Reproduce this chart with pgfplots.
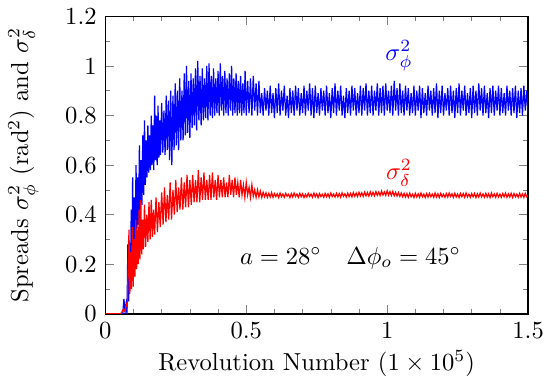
\documentclass[border=0pt]{standalone}
\usepackage{pgfplots}
\pgfplotsset{compat=1.18}
\begin{document}
\begin{tikzpicture}
\begin{axis}[
  scale only axis,
  width=172pt, height=121pt,
  xmin=0, xmax=1.5, ymin=0, ymax=1.2,
  xtick={0,0.5,1,1.5}, xticklabels={0,0.5,1,1.5},
  ytick={0,0.2,0.4,0.6,0.8,1,1.2}, yticklabels={0,0.2,0.4,0.6,0.8,1,1.2},
  minor x tick num=4, minor y tick num=1,
  tick align=inside, tick pos=both,
  major tick length=3.5pt, minor tick length=2pt,
  axis line style={line width=0.6pt},
  xlabel={Revolution Number ($1\times 10^5$)},
  ylabel={Spreads $\sigma_\phi^2$ (rad$^2$) and $\sigma_\delta^2$},
  xlabel style={yshift=2.5pt},
  ylabel style={yshift=4pt},
]
\addplot[blue, line width=0.5pt] coordinates {
(0,0) (0.05,0) (0.062,0.0) (0.066,0.06) (0.070,0.01) (0.074,0.04) (0.077,0.0) (0.080,0.28) (0.083,0.05)
(0.086,0.2) (0.089,0.12) (0.092,0.42) (0.094,0.16) (0.097,0.55) (0.100,0.25) (0.103,0.47) (0.106,0.3)
(0.109,0.6) (0.112,0.34) (0.115,0.55) (0.118,0.36) (0.121,0.68) (0.124,0.42) (0.127,0.62) (0.130,0.44)
(0.133,0.72) (0.136,0.48) (0.139,0.78) (0.142,0.52) (0.145,0.70) (0.148,0.55) (0.151,0.76) (0.154,0.57)
(0.157,0.72) (0.160,0.58) (0.163,0.80) (0.166,0.6) (0.169,0.76) (0.172,0.58) (0.175,0.88) (0.178,0.62)
(0.181,0.80) (0.184,0.6) (0.187,0.84) (0.190,0.63) (0.193,0.78) (0.196,0.64) (0.2,0.85) (0.204,0.65)
(0.208,0.82) (0.212,0.64) (0.216,0.88) (0.22,0.66) (0.224,0.86) (0.228,0.62) (0.232,0.9) (0.236,0.60)
(0.24,0.88) (0.244,0.66) (0.248,0.93) (0.252,0.68) (0.256,0.9) (0.26,0.66) (0.264,0.95) (0.268,0.7)
(0.272,0.9) (0.276,0.7) (0.28,0.97) (0.284,0.72) (0.288,1.0) (0.292,0.73) (0.296,0.94) (0.30,0.71)
(0.304,0.97) (0.308,0.75) (0.312,0.95) (0.316,0.76) (0.32,0.99) (0.324,0.74) (0.328,1.02) (0.332,0.78)
(0.336,0.96) (0.34,0.76) (0.344,0.99) (0.348,0.78) (0.352,0.95) (0.356,0.79) (0.36,1.0) (0.364,0.78)
(0.368,1.01) (0.372,0.8) (0.376,0.96) (0.38,0.79) (0.384,0.99) (0.388,0.8) (0.392,0.95) (0.396,0.81)
(0.40,0.98) (0.404,0.8) (0.408,1.01) (0.412,0.82) (0.416,0.96) (0.42,0.8) (0.424,0.98) (0.428,0.81)
(0.432,0.95) (0.436,0.8) (0.44,0.97) (0.444,0.82) (0.448,1.0) (0.452,0.8) (0.456,0.95) (0.46,0.81)
(0.464,0.97) (0.468,0.8) (0.472,0.94) (0.476,0.81) (0.48,0.96) (0.484,0.8) (0.488,0.93) (0.492,0.81)
(0.496,0.98) (0.50,0.80) (0.505,0.94) (0.51,0.81) (0.515,0.95) (0.52,0.80) (0.525,0.96) (0.53,0.82)
(0.535,0.93) (0.54,0.80) (0.545,0.94) (0.550,0.81) (0.555,0.89) (0.560,0.80) (0.565,0.91) (0.570,0.82) (0.575,0.90)
(0.580,0.80) (0.585,0.92) (0.590,0.81) (0.595,0.89) (0.600,0.79) (0.605,0.91) (0.610,0.81) (0.615,0.93)
(0.620,0.80) (0.625,0.90) (0.630,0.82) (0.635,0.92) (0.640,0.80) (0.645,0.88) (0.650,0.79) (0.655,0.91)
(0.660,0.81) (0.665,0.90) (0.670,0.80) (0.675,0.92) (0.680,0.82) (0.685,0.91) (0.690,0.80) (0.695,0.89)
(0.700,0.81) (0.705,0.92) (0.710,0.80) (0.715,0.90) (0.720,0.82) (0.725,0.93) (0.730,0.80) (0.735,0.91)
(0.740,0.79) (0.745,0.92) (0.750,0.81) (0.755,0.89) (0.760,0.80) (0.765,0.91) (0.770,0.82) (0.775,0.90)
(0.780,0.80) (0.785,0.92) (0.790,0.81) (0.795,0.89) (0.800,0.79) (0.805,0.91) (0.810,0.81) (0.815,0.93)
(0.820,0.80) (0.825,0.90) (0.830,0.82) (0.835,0.92) (0.840,0.80) (0.845,0.88) (0.850,0.79) (0.855,0.91)
(0.860,0.81) (0.865,0.90) (0.870,0.80) (0.875,0.92) (0.880,0.82) (0.885,0.91) (0.890,0.80) (0.895,0.89)
(0.900,0.81) (0.905,0.92) (0.910,0.80) (0.915,0.91) (0.920,0.82) (0.925,0.93) (0.930,0.80) (0.935,0.90)
(0.940,0.81) (0.945,0.92) (0.950,0.80) (0.955,0.90) (0.960,0.82) (0.965,0.93) (0.970,0.80) (0.975,0.91)
(0.980,0.81) (0.985,0.92) (0.990,0.80) (0.995,0.93) (1.000,0.82) (1.005,0.90) (1.010,0.81) (1.015,0.92)
(1.020,0.80) (1.025,0.94) (1.030,0.82) (1.035,0.91) (1.040,0.80) (1.045,0.93) (1.050,0.81) (1.055,0.90)
(1.060,0.80) (1.065,0.92) (1.070,0.82) (1.075,0.91) (1.080,0.80) (1.085,0.89) (1.090,0.81) (1.095,0.92)
(1.100,0.80) (1.105,0.90) (1.110,0.82) (1.115,0.92) (1.120,0.79) (1.125,0.91) (1.130,0.81) (1.135,0.89)
(1.140,0.80) (1.145,0.92) (1.150,0.82) (1.155,0.90) (1.160,0.80) (1.165,0.91) (1.170,0.81) (1.175,0.93)
(1.180,0.79) (1.185,0.90) (1.190,0.81) (1.195,0.92) (1.200,0.80) (1.205,0.89) (1.210,0.82) (1.215,0.91)
(1.220,0.80) (1.225,0.92) (1.230,0.81) (1.235,0.90) (1.240,0.79) (1.245,0.91) (1.250,0.81) (1.255,0.93)
(1.260,0.80) (1.265,0.90) (1.270,0.82) (1.275,0.92) (1.280,0.80) (1.285,0.89) (1.290,0.81) (1.295,0.91)
(1.300,0.79) (1.305,0.92) (1.310,0.81) (1.315,0.90) (1.320,0.80) (1.325,0.93) (1.330,0.82) (1.335,0.91)
(1.340,0.80) (1.345,0.92) (1.350,0.81) (1.355,0.89) (1.360,0.79) (1.365,0.91) (1.370,0.81) (1.375,0.92)
(1.380,0.80) (1.385,0.90) (1.390,0.82) (1.395,0.92) (1.400,0.80) (1.405,0.91) (1.410,0.81) (1.415,0.89)
(1.420,0.80) (1.425,0.92) (1.430,0.82) (1.435,0.90) (1.440,0.80) (1.445,0.91) (1.450,0.81) (1.455,0.92)
(1.460,0.79) (1.465,0.90) (1.470,0.81) (1.475,0.91) (1.480,0.80) (1.485,0.92) (1.490,0.82) (1.495,0.90)
(1.500,0.81)
};
\addplot[red, line width=0.5pt] coordinates {
(0,0) (0.055,0) (0.06,0.01) (0.065,0.02) (0.07,0.01) (0.074,0.04) (0.078,0.03) (0.081,0.18) (0.084,0.34)
(0.087,0.08) (0.09,0.25) (0.093,0.1) (0.096,0.35) (0.099,0.11) (0.102,0.3) (0.105,0.15) (0.108,0.38)
(0.111,0.18) (0.114,0.34) (0.117,0.2) (0.120,0.42) (0.123,0.22) (0.126,0.46) (0.129,0.24) (0.132,0.38)
(0.135,0.26) (0.139,0.44) (0.143,0.27) (0.147,0.40) (0.151,0.29) (0.155,0.45) (0.159,0.30) (0.163,0.46)
(0.167,0.31) (0.171,0.42) (0.175,0.32) (0.18,0.47) (0.185,0.33) (0.19,0.45) (0.195,0.35) (0.2,0.49)
(0.205,0.36) (0.21,0.51) (0.215,0.37) (0.22,0.48) (0.225,0.38) (0.23,0.53) (0.235,0.38) (0.24,0.50)
(0.245,0.40) (0.25,0.54) (0.255,0.41) (0.26,0.51) (0.265,0.42) (0.27,0.55) (0.275,0.42) (0.28,0.53)
(0.285,0.43) (0.29,0.56) (0.295,0.43) (0.30,0.54) (0.305,0.44) (0.31,0.56) (0.315,0.45) (0.32,0.54)
(0.325,0.45) (0.33,0.58) (0.335,0.45) (0.34,0.55) (0.345,0.46) (0.35,0.57) (0.355,0.46) (0.36,0.54)
(0.365,0.46) (0.37,0.56) (0.375,0.46) (0.38,0.57) (0.385,0.47) (0.39,0.54) (0.395,0.46) (0.40,0.56)
(0.405,0.47) (0.41,0.54) (0.415,0.47) (0.42,0.55) (0.425,0.47) (0.43,0.53) (0.435,0.47) (0.44,0.56)
(0.445,0.48) (0.45,0.54) (0.455,0.47) (0.46,0.55) (0.465,0.48) (0.47,0.53) (0.475,0.47) (0.48,0.54)
(0.485,0.48) (0.49,0.52) (0.495,0.47) (0.50,0.53) (0.505,0.48) (0.51,0.51) (0.515,0.47) (0.52,0.52)
(0.525,0.475) (0.53,0.50) (0.535,0.47) (0.54,0.50) (0.545,0.472) (0.55,0.495) (0.555,0.47) (0.56,0.49)
(0.565,0.472) (0.57,0.488) (0.575,0.47) (0.58,0.486) (0.585,0.471) (0.59,0.489) (0.595,0.47) (0.60,0.485)
(0.605,0.473) (0.61,0.484) (0.615,0.469) (0.62,0.487) (0.625,0.472) (0.63,0.483) (0.635,0.47) (0.64,0.486)
(0.645,0.474) (0.65,0.482) (0.655,0.469) (0.66,0.485) (0.665,0.471) (0.67,0.487) (0.675,0.473) (0.68,0.483)
(0.685,0.47) (0.69,0.486) (0.695,0.472) (0.70,0.484) (0.705,0.469) (0.71,0.482) (0.715,0.471) (0.72,0.486)
(0.725,0.473) (0.73,0.483) (0.735,0.47) (0.74,0.487) (0.745,0.472) (0.75,0.484) (0.755,0.469) (0.76,0.485)
(0.765,0.473) (0.77,0.482) (0.775,0.47) (0.78,0.486) (0.785,0.472) (0.79,0.484) (0.795,0.47) (0.80,0.487)
(0.805,0.473) (0.81,0.483) (0.815,0.471) (0.82,0.486) (0.825,0.472) (0.83,0.485) (0.835,0.47) (0.84,0.488)
(0.845,0.474) (0.85,0.484) (0.855,0.471) (0.86,0.487) (0.865,0.473) (0.87,0.486) (0.875,0.472) (0.88,0.489)
(0.885,0.474) (0.89,0.487) (0.895,0.473) (0.90,0.49) (0.905,0.475) (0.91,0.488) (0.915,0.474) (0.92,0.491)
(0.925,0.476) (0.93,0.489) (0.935,0.475) (0.94,0.492) (0.945,0.477) (0.95,0.49) (0.955,0.476) (0.96,0.493)
(0.965,0.478) (0.97,0.491) (0.975,0.477) (0.98,0.495) (0.985,0.479) (0.99,0.492) (0.995,0.478) (1.00,0.496)
(1.005,0.479) (1.01,0.493) (1.015,0.477) (1.02,0.494) (1.025,0.476) (1.03,0.49) (1.035,0.475) (1.04,0.489)
(1.045,0.474) (1.05,0.487) (1.055,0.472) (1.06,0.486) (1.065,0.471) (1.07,0.485) (1.075,0.47) (1.08,0.487)
(1.085,0.472) (1.09,0.483) (1.095,0.469) (1.10,0.486) (1.105,0.471) (1.11,0.484) (1.115,0.47) (1.12,0.487)
(1.125,0.472) (1.13,0.483) (1.135,0.469) (1.14,0.485) (1.145,0.471) (1.15,0.486) (1.155,0.472) (1.16,0.483)
(1.165,0.47) (1.17,0.487) (1.175,0.471) (1.18,0.484) (1.185,0.469) (1.19,0.486) (1.195,0.472) (1.20,0.483)
(1.205,0.47) (1.21,0.485) (1.215,0.471) (1.22,0.487) (1.225,0.473) (1.23,0.484) (1.235,0.47) (1.24,0.486)
(1.245,0.471) (1.25,0.483) (1.255,0.469) (1.26,0.486) (1.265,0.472) (1.27,0.485) (1.275,0.47) (1.28,0.487)
(1.285,0.471) (1.29,0.483) (1.295,0.47) (1.30,0.485) (1.305,0.472) (1.31,0.486) (1.315,0.469) (1.32,0.484)
(1.325,0.471) (1.33,0.487) (1.335,0.472) (1.34,0.483) (1.345,0.47) (1.35,0.486) (1.355,0.471) (1.36,0.484)
(1.365,0.469) (1.37,0.487) (1.375,0.472) (1.38,0.484) (1.385,0.47) (1.39,0.486) (1.395,0.471) (1.40,0.483)
(1.405,0.47) (1.41,0.485) (1.415,0.472) (1.42,0.487) (1.425,0.47) (1.43,0.484) (1.435,0.471) (1.44,0.486)
(1.445,0.469) (1.45,0.485) (1.455,0.472) (1.46,0.483) (1.465,0.47) (1.47,0.486) (1.475,0.471) (1.48,0.484)
(1.485,0.47) (1.49,0.486) (1.495,0.472) (1.50,0.478)
};
\node[blue] at (axis cs:1.042,1.04) {$\sigma_\phi^2$};
\node[red] at (axis cs:1.042,0.57) {$\sigma_\delta^2$};
\node at (axis cs:0.87,0.225) {$a=28^\circ\quad\Delta\phi_o=45^\circ$};
\end{axis}
\end{tikzpicture}
\end{document}
